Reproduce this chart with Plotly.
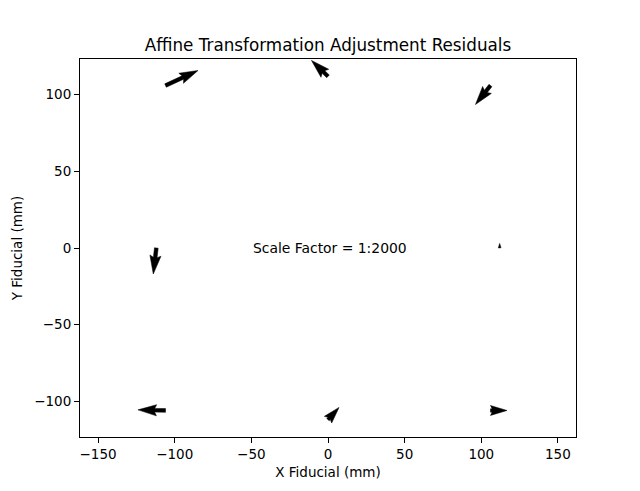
import numpy as np
import plotly.graph_objects as go

# fiducial positions (mm) and adjustment residuals (mm)
fid_x = [-106, 0, 106, -112, 112, -106, 0, 106]
fid_y = [106, 112, 106, 0, 0, -106, -112, -106]
res_x = [0.0106, -0.0054, -0.0049, -0.0010, 0.0000, -0.0090, 0.0036, 0.0054]
res_y = [0.0049, 0.0052, -0.0062, -0.0085, 0.0015, 0.0002, 0.0040, 0.0000]
scale = 2000

W, H = 640, 491
ml, mr, mt, mb = 80, 64, 59, 54
xr = [-161.8, 161.8]
yr = [-123.3, 123.3]
ppu = (W - ml - mr) / (xr[1] - xr[0])   # pixels per mm on plot

# quiver style arrows (shaft width in px, head sizes in shaft widths)
width_px = 0.06 * (W - ml - mr) / 8
hl, hal, hw = 5.0, 4.5, 3.0
minsh = hl

px, py = [], []
for x0, y0, u, v in zip(fid_x, fid_y, res_x, res_y):
    dx, dy = u * scale, v * scale
    L = np.hypot(dx, dy) * ppu / width_px
    ang = np.arctan2(dy, dx)
    if L < minsh:
        s = L / minsh
        X = s * np.array([0, minsh - hal, minsh - hl, minsh, minsh - hl, minsh - hal, 0, 0])
        Y = s * 0.5 * np.array([1, 1, hw, 0, -hw, -1, -1, 1])
    else:
        X = np.array([0, L - hal, L - hl, L, L - hl, L - hal, 0, 0])
        Y = 0.5 * np.array([1, 1, hw, 0, -hw, -1, -1, 1])
    k = width_px / ppu
    xs = x0 + k * (X * np.cos(ang) - Y * np.sin(ang))
    ys = y0 + k * (X * np.sin(ang) + Y * np.cos(ang))
    px += list(xs) + [None]
    py += list(ys) + [None]

fig = go.Figure()
fig.add_trace(go.Scatter(x=px, y=py, mode="lines", fill="toself",
                         fillcolor="black", line=dict(color="black", width=0.5),
                         hoverinfo="skip", showlegend=False))

fig.add_annotation(x=-50, y=0, text="Scale Factor = 1:%d" % scale, showarrow=False,
                   xanchor="left", yanchor="middle", font=dict(size=13.9, color="black"))

axis = dict(showgrid=False, zeroline=False, showline=True, linecolor="black",
            linewidth=1, mirror=True, ticks="outside", ticklen=5, tickcolor="black",
            tickfont=dict(size=13.5, color="black"))
fig.update_xaxes(range=xr, tickvals=[-150, -100, -50, 0, 50, 100, 150],
                 title=dict(text="X Fiducial (mm)", font=dict(size=13.5), standoff=6), **axis)
fig.update_yaxes(range=yr, tickvals=[-100, -50, 0, 50, 100],
                 title=dict(text="Y Fiducial (mm)", font=dict(size=13.5), standoff=8), **axis)

fig.update_layout(
    width=W, height=H,
    margin=dict(l=ml, r=mr, t=mt, b=mb, autoexpand=False),
    plot_bgcolor="white", paper_bgcolor="white",
    font=dict(family="DejaVu Sans", color="black"),
    title=dict(text="Affine Transformation Adjustment Residuals", x=(ml + (W - ml - mr) / 2) / W,
               xanchor="center", y=1 - 45 / H, yanchor="middle", font=dict(size=16.8)),
)

fig.write_html("out.html", config={"displayModeBar": False},
               post_script="document.body.style.margin='0';")
